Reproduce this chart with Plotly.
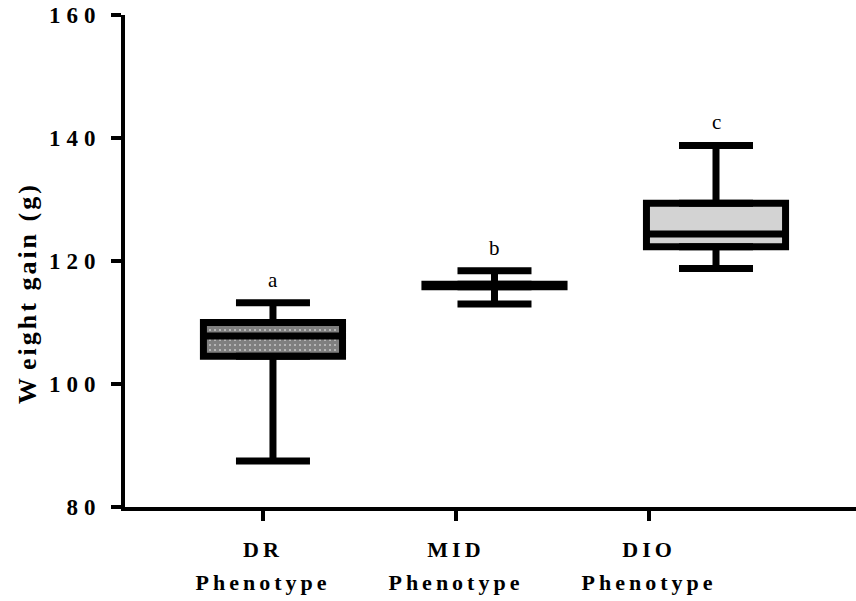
import plotly.graph_objects as go

# ---- data ----
categories = ["DR", "MID", "DIO"]
cat_line2 = ["Phenotype", "Phenotype", "Phenotype"]
positions = [0, 1, 2]
q1 = [104.5, 115.8, 122.3]
median = [107.8, 116.0, 124.4]
q3 = [110.0, 116.2, 129.4]
whisker_low = [87.5, 113.0, 118.8]
whisker_high = [113.2, 118.4, 138.8]
letters = ["a", "b", "c"]
fills = ["#7a7a7a", "#ffffff", "#d3d3d3"]
y_ticks = [80, 100, 120, 140, 160]
x_tick_pos = [-0.045, 0.826, 1.698]
x_range = [-0.668, 2.632]
y_title = "Weight gain (g)"

SERIF = "Liberation Serif, Times New Roman, serif"

def spaced(s, px):
    return f'<span style="letter-spacing:{px}px">{s}</span>'

fig = go.Figure()

# checkered-looking fill for DR box drawn as a bar underneath
fig.add_trace(go.Bar(
    x=[positions[0]], y=[q3[0] - q1[0]], base=[q1[0]], width=0.628,
    marker=dict(color="white", line=dict(width=0),
                pattern=dict(shape=".", fgcolor="black", bgcolor="white",
                             size=5, solidity=0.85)),
    showlegend=False, hoverinfo="skip"))

for i in range(len(categories)):
    fig.add_trace(go.Box(
        x=[positions[i]], q1=[q1[i]], median=[median[i]], q3=[q3[i]],
        lowerfence=[q1[i]], upperfence=[q3[i]],
        width=0.628, whiskerwidth=0,
        fillcolor="rgba(0,0,0,0)" if i == 0 else fills[i],
        line=dict(color="black", width=7),
        boxpoints=False, showlegend=False, name=categories[i]))

# whiskers with caps
fig.add_trace(go.Scatter(
    x=positions + positions,
    y=q3 + q1,
    mode="markers", marker=dict(size=1, opacity=0),
    error_y=dict(type="data", symmetric=False,
                 array=[h - t for h, t in zip(whisker_high, q3)] + [0] * 3,
                 arrayminus=[0] * 3 + [b - l for b, l in zip(q1, whisker_low)],
                 color="black", thickness=7, width=37),
    showlegend=False, hoverinfo="skip"))

# invisible trace to carry the second row of category labels
fig.add_trace(go.Scatter(x=positions, y=median, xaxis="x2", mode="markers",
                         marker=dict(size=1, opacity=0),
                         showlegend=False, hoverinfo="skip"))

for i in range(len(categories)):
    fig.add_annotation(x=positions[i], y=whisker_high[i], text=letters[i],
                       showarrow=False, yanchor="bottom", yshift=9,
                       font=dict(family=SERIF, size=21, color="black"))

# y axis title (placed as rotated annotation)
title_html = (f'<b><span style="letter-spacing:8px">{y_title[0]}</span>'
              f'{spaced(y_title[1:], 3)}</b>')
fig.add_annotation(xref="paper", yref="paper", x=0, y=0.5, xanchor="center",
                   yanchor="middle", xshift=-98, yshift=-32, textangle=-90,
                   text=title_html, showarrow=False,
                   font=dict(family=SERIF, size=26, color="black"))

fig.update_layout(
    width=856, height=601,
    margin=dict(l=125, r=0, t=15, b=94),
    paper_bgcolor="white", plot_bgcolor="white",
    boxmode="overlay", barmode="overlay",
    font=dict(family=SERIF, color="black"),
    xaxis=dict(range=x_range, showgrid=False, zeroline=False,
               showline=True, linecolor="black", linewidth=4,
               ticks="outside", ticklen=10, tickwidth=4, tickcolor="black",
               tickvals=x_tick_pos,
               ticktext=[f"<b>{spaced(c, 4)}</b>" for c in categories],
               ticklabelstandoff=10,
               tickfont=dict(family=SERIF, size=22, color="black")),
    xaxis2=dict(range=x_range, overlaying="x", anchor="y", side="bottom",
                showgrid=False, zeroline=False, showline=False,
                ticks="", tickvals=x_tick_pos,
                ticktext=[f"<b>{spaced(p, 4)}</b>" for p in cat_line2],
                ticklabelstandoff=60,
                tickfont=dict(family=SERIF, size=22, color="black")),
    yaxis=dict(range=[80, 160], showgrid=False, zeroline=False,
               showline=True, linecolor="black", linewidth=4,
               ticks="outside", ticklen=10, tickwidth=4, tickcolor="black",
               tickvals=y_ticks,
               ticktext=[f"<b>{spaced(str(v), 6)}</b>" for v in y_ticks],
               ticklabelstandoff=5,
               tickfont=dict(family=SERIF, size=23, color="black")),
)

fig.write_html("out.html")
